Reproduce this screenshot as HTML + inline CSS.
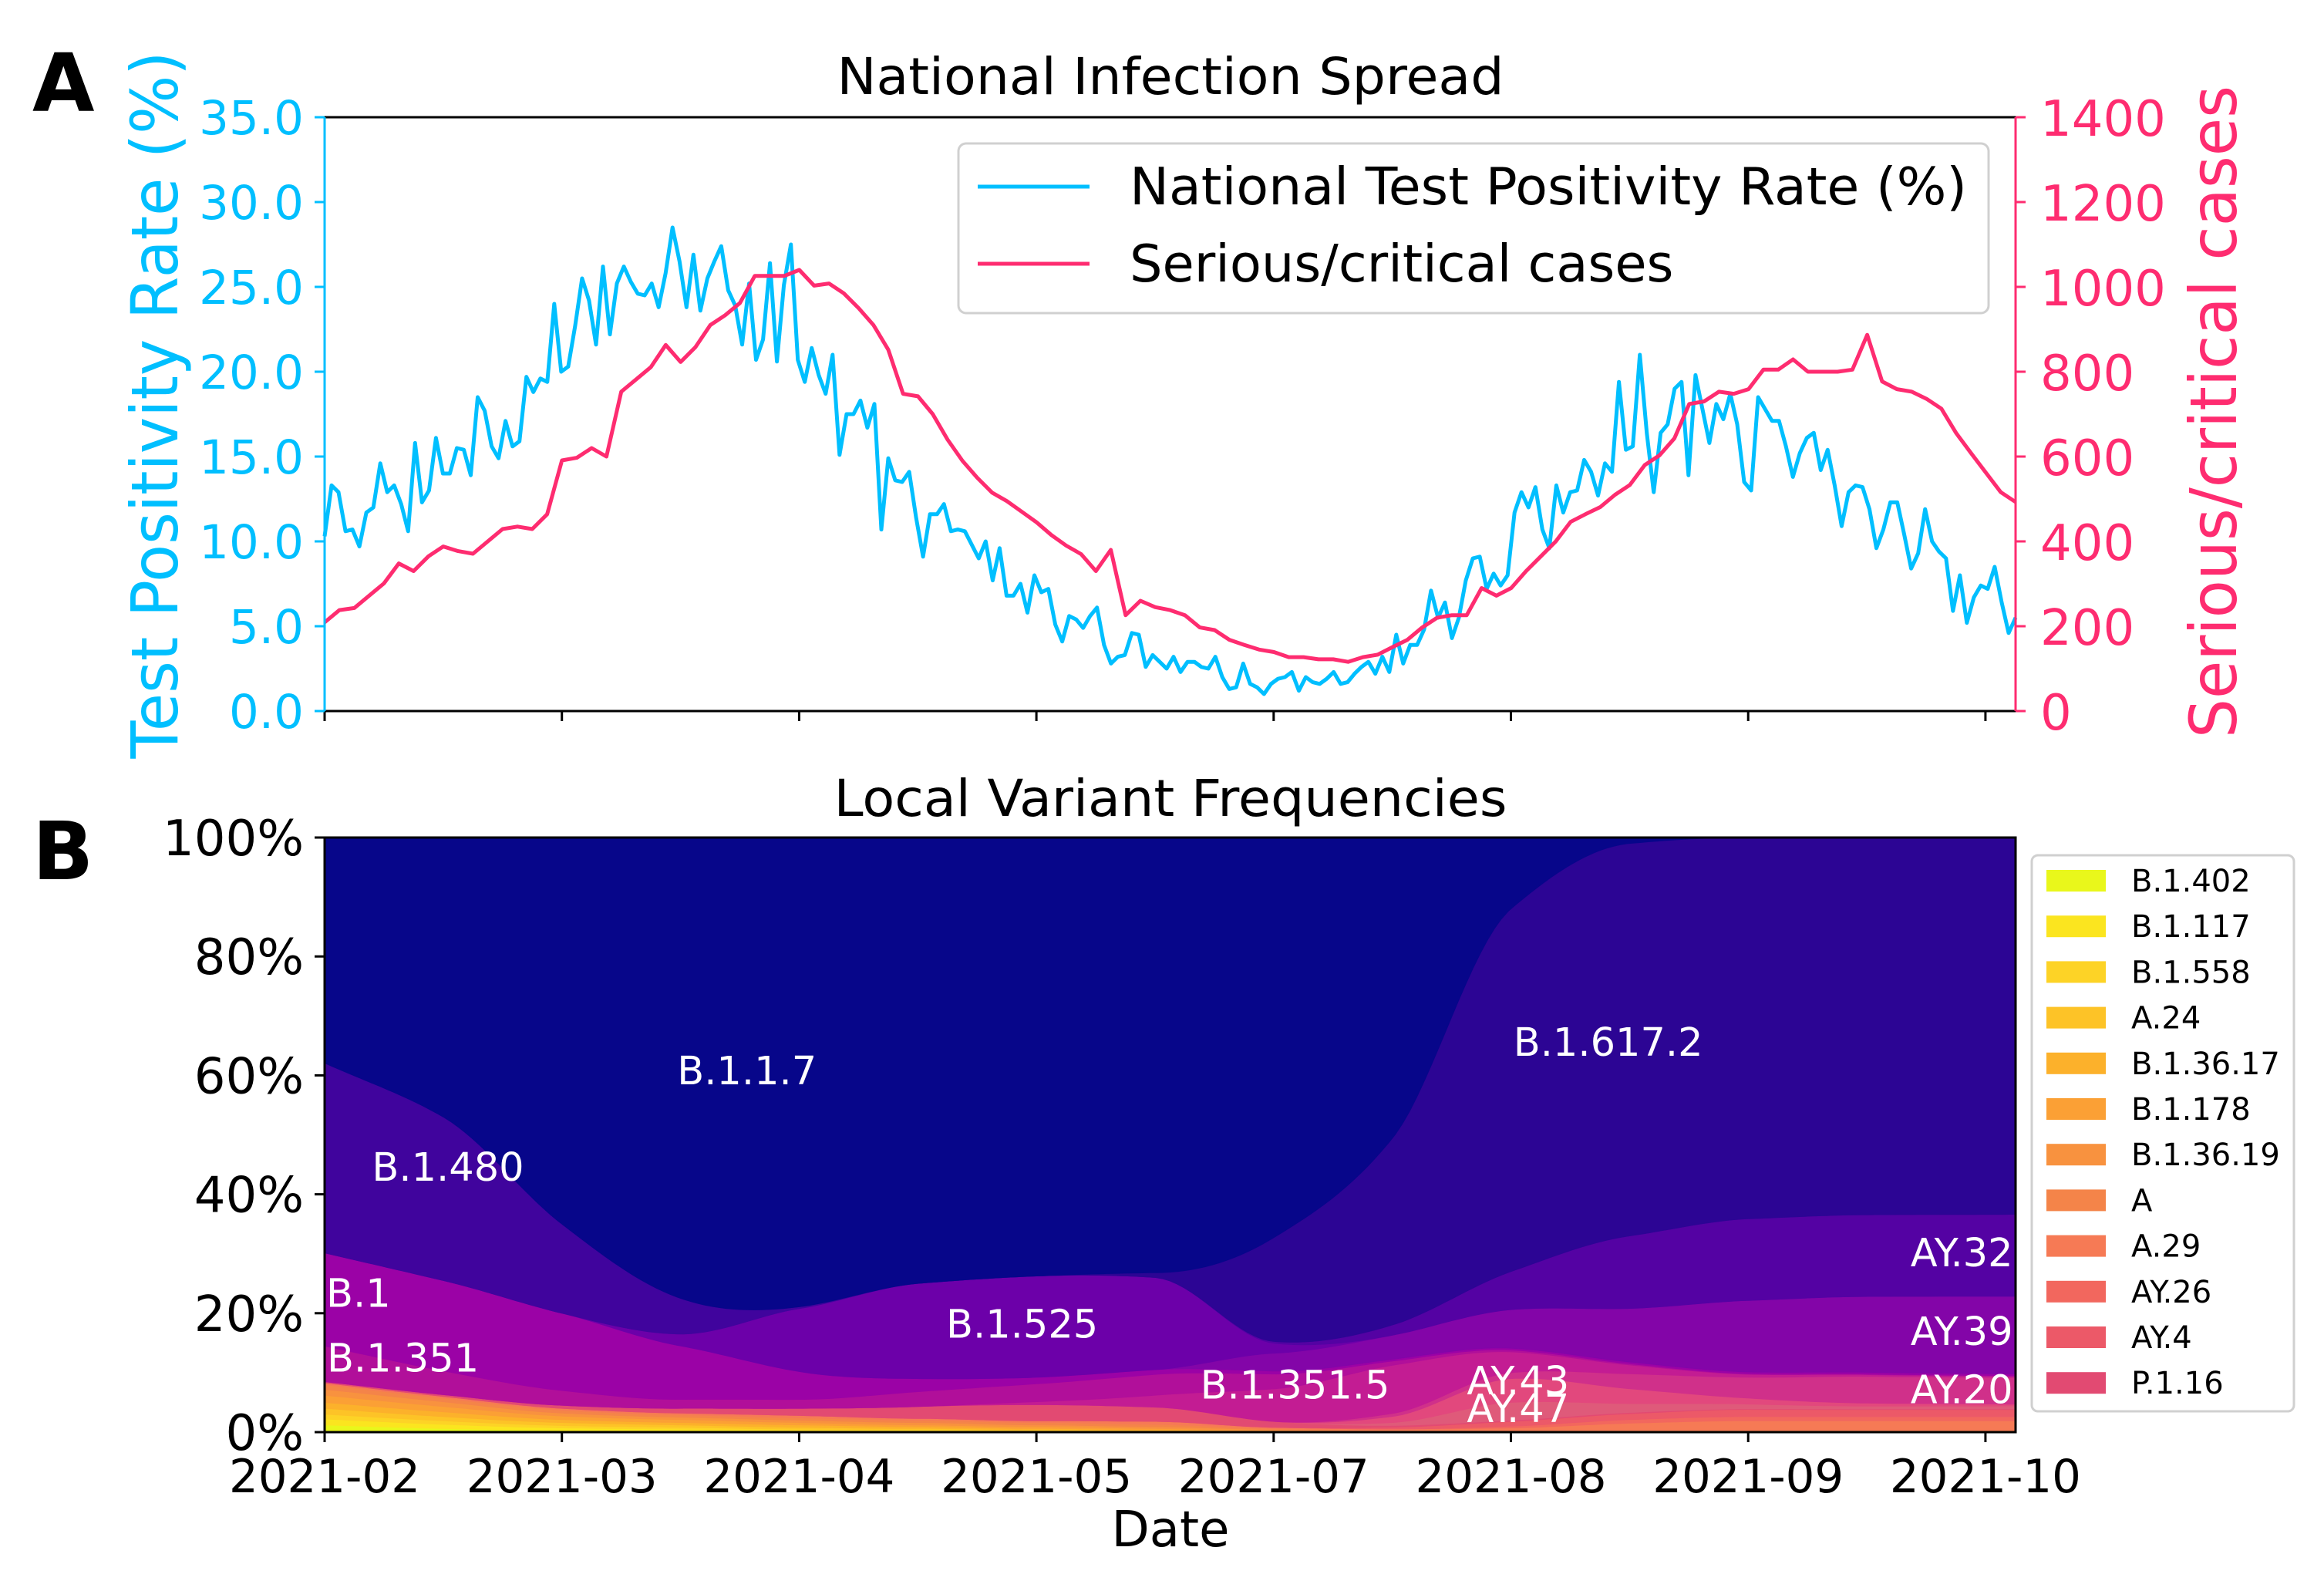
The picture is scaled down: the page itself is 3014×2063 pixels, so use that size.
<!DOCTYPE html>
<html><head><meta charset="utf-8"><style>html,body{margin:0;padding:0;background:#fff}svg{display:block}text{font-family:"DejaVu Sans","Liberation Sans",sans-serif}</style></head>
<body>
<svg id="fig" xmlns="http://www.w3.org/2000/svg" width="3014" height="2063" viewBox="0 0 3014 2063">
<rect width="3014" height="2063" fill="#fff"/>
<g id="panelA"></g>
<g id="panelB"></g>
</svg>
<script>
// ---------- Panel A data ----------
const monthLabels = ["2021-02","2021-03","2021-04","2021-05","2021-07","2021-08","2021-09","2021-10"];
const xEnd = 7.127; // last sample date in month units
const positivityRate = [10.3,13.3,12.9,10.6,10.7,9.7,11.7,12,14.6,12.9,13.3,12.2,10.6,15.8,12.3,13,16.1,14,14,15.5,15.4,13.9,18.5,17.7,15.6,14.9,17.1,15.6,15.9,19.7,18.8,19.6,19.4,24,20,20.3,22.7,25.5,24.2,21.6,26.2,22.2,25.2,26.2,25.3,24.6,24.5,25.2,23.8,25.8,28.5,26.5,23.8,26.9,23.6,25.5,26.5,27.4,24.8,23.9,21.6,25.2,20.7,21.9,26.4,20.6,25.1,27.5,20.7,19.4,21.4,19.8,18.7,21,15.1,17.5,17.5,18.3,16.7,18.1,10.7,14.9,13.6,13.5,14.1,11.4,9.1,11.6,11.6,12.2,10.6,10.7,10.6,9.8,9,10,7.7,9.6,6.8,6.8,7.5,5.8,8,7,7.2,5.1,4.1,5.6,5.4,4.9,5.6,6.1,3.9,2.8,3.2,3.3,4.6,4.5,2.6,3.3,2.9,
2.5,3.2,2.3,2.9,2.9,2.6,2.5,3.2,2,1.3,1.4,2.8,1.6,1.4,1,1.6,1.9,2,2.3,1.2,2,1.7,1.6,1.9,2.3,1.6,1.7,2.2,2.6,2.9,2.2,3.2,2.3,4.5,2.8,3.9,3.9,4.8,7.1,5.5,6.4,4.3,5.5,7.7,9,9.1,7.2,8.1,7.4,8,11.7,12.9,12,13.2,10.7,9.6,13.3,11.7,12.9,13,14.8,14.1,12.7,14.6,14.1,19.4,15.4,15.6,21,16.4,12.9,16.4,16.9,19,19.4,13.9,19.8,17.8,15.8,18.1,17.2,18.7,16.9,13.5,13,18.5,17.8,17.1,17.1,15.6,13.8,15.2,16.1,16.4,14.2,15.4,13.3,10.9,12.9,13.3,13.2,11.9,9.6,10.7,12.3,12.3,10.4,8.4,9.3,11.9,10,9.4,9,5.9,8,5.2,6.7,7.4,7.2,8.5,6.4,4.6,5.5];
const seriousCases = [209,238,243,272,301,348,330,365,388,377,371,400,429,435,429,464,591,597,620,600,753,782,811,863,823,858,910,933,962,1026,1026,1026,1040,1003,1008,985,950,910,852,748,742,700,640,590,550,515,495,470,445,415,390,370,330,380,226,260,245,
238,226,197,191,168,156,145,139,127,127,122,122,116,127,133,151,168,197,220,226,226,290,272,290,330,365,400,446,464,481,510,533,580,603,643,724,730,753,748,759,805,805,829,800,800,800,805,887,777,759,753,736,713,655,608,562,516,493];
const leftTicks = [0,5,10,15,20,25,30,35];
const rightTicks = [0,200,400,600,800,1000,1200,1400];

// ---------- Panel B data ----------
const gridMonths = [0,0.5,1,1.5,2,2.5,3,3.5,4,4.5,5,5.5,6,6.5,7.127];
const variantNames = ["B.1.402","B.1.117","B.1.558","A.24","B.1.36.17","B.1.178","B.1.36.19","A","A.29","AY.26","AY.4","P.1.16","AY.47","AY.43","AY.20","B.1.351.5","B.1.351","B.1","AY.39","B.1.525","AY.32","B.1.480","B.1.617.2","B.1.1.7"];
const v_B1402 = [1.2,.6,.3,.2,.1,.1,0,0,0,0,0,0,0,0,0];
const v_B1117 = [1,.7,.4,.3,.2,.1,.1,0,0,0,0,0,0,0,0];
const v_B1558 = [.8,.6,.4,.3,.2,.2,.1,.1,0,0,0,0,0,0,0];
const v_A24 = [1,.7,.5,.4,.3,.2,.2,.1,0,0,0,0,0,0,0];
const v_B13617 = [1,.8,.5,.4,.4,.3,.2,.2,.1,0,0,0,0,0,0];
const v_B1178 = [1.2,.9,.6,.5,.4,.3,.3,.2,.1,0,0,0,0,0,0];
const v_B13619 = [1,.8,.5,.4,.4,.4,.3,.3,.2,.1,.1,.1,.1,.1,.1];
const v_A = [.8,.6,.5,.4,.4,.4,.4,.4,.2,.2,.2,.2,.2,.2,.2];
const v_A29 = [.3,.3,.3,.3,.4,.3,.3,.5,.2,.2,.4,1.2,1.6,1.6,1.6];
const v_AY26 = [0,0,0,0,0,0,0,0,0,0,.3,.6,.7,.7,.7];
const v_AY4 = [0,0,0,0,0,0,0,0,0,.3,.8,1,1.2,1.2,1.2];
const v_P116 = [.2,.3,.5,.8,1.2,2,2.7,2.4,1,.3,.2,.2,.1,.1,.1];
const v_AY47 = [0,0,0,0,0,0,0,0,0,.5,3,1.5,.8,.5,.5];
const v_AY43 = [0,0,0,0,0,0,0,0,0,1,4,2.5,1,.5,.3];
const v_AY20 = [0,0,0,0,0,0,0,0,0,.5,1,2.5,3.5,4.5,4.5];
const v_B13515 = [0,0,0,0,0,0,.5,2,5.5,8,3.5,1.5,.5,.3,.2];
const v_B1351 = [6,4,2.5,1.5,1.5,2.5,3,3.5,2.5,.7,.3,.2,.1,.1,.1];
const v_B1 = [15.7,15.2,13,9,4.7,2.2,1.1,.8,.5,.3,.3,.3,.3,.3,.3];
const v_AY39 = [0,0,0,0,0,0,0,0,3,4,6.5,9,12,12.8,13.1];
const v_B1525 = [0,0,0,2,10.6,16,17,15.5,1.7,0,0,0,0,0,0];
const v_AY32 = [0,0,0,0,0,0,0,0,.3,1.7,6.4,12.2,13.7,13.8,13.8];
const v_B1480 = [32,27.5,15,6,.3,0,0,0,0,0,0,0,0,0,0];
const v_B16172 = [0,0,0,0,0,0,0,.8,17.5,31,61,66,64,63.7,63.5];
const v_B117 = [38,47,65,77.5,79,75,73.6,73.2,67.5,50,12,1,0,0,0];
const variantValues = [v_B1402,v_B1117,v_B1558,v_A24,v_B13617,v_B1178,v_B13619,v_A,v_A29,v_AY26,v_AY4,v_P116,v_AY47,v_AY43,v_AY20,v_B13515,v_B1351,v_B1,v_AY39,v_B1525,v_AY32,v_B1480,v_B16172,v_B117];
const variantColors = ["#e9f71b","#fbe51f","#fdd326","#fdc327","#fcb12b","#fba035","#f8923f","#f48449","#f67a55","#f2675e","#ec5968","#e24a72","#df5a7a","#e2487d","#d0308a","#c31c93","#b10f9a","#9b02a6","#8305a8","#6c00a9","#5402a3","#40049d","#2c0594","#07068a"];
const legendCount = 12;
const yTicksB = [0,20,40,60,80,100];
const variantLabels = [["B.1.1.7",1.78,60.8],["B.1.617.2",5.41,65.6],["B.1.480",0.52,44.6],["B.1",0.0,23.4],["B.1.525",2.94,18.2],["B.1.351",0.33,12.5],["B.1.351.5",4.09,8],["AY.43",5.03,8.7],["AY.47",5.03,4],["AY.32",6.9,30.2],["AY.39",6.9,17],["AY.20",6.9,7.2]];

const NS="http://www.w3.org/2000/svg";
function mk(parent,tag,attrs,txt){const e=document.createElementNS(NS,tag);for(const k in attrs)e.setAttribute(k,attrs[k]);if(txt!==undefined)e.textContent=txt;parent.appendChild(e);return e;}

const L=421,R=2614;
const xs=m=>L+(m/xEnd)*(R-L);
const aTop=152,aBot=922;
const yLeft=v=>aBot-(v/35)*(aBot-aTop);
const yRight=v=>aBot-(v/1400)*(aBot-aTop);
const bTop=1086,bBot=1857;
const yB=v=>bBot-(v/100)*(bBot-bTop);
const BLUE="#00bfff",PINK="#fe2c70";

// ---------- Panel A ----------
const A=document.getElementById('panelA');
let t;
t=mk(A,'text',{x:42,y:144,'font-size':104,'font-weight':'bold','font-family':'Liberation Sans'},'A');


t=mk(A,'text',{x:1518,y:122,'font-size':66,'text-anchor':'middle',textLength:865,lengthAdjust:'spacingAndGlyphs'},'National Infection Spread');



function polyPath(vals,yf){const step=xEnd/(vals.length-1);return vals.map((v,i)=>(i?'L':'M')+xs(i*step).toFixed(1)+' '+yf(v).toFixed(1)).join(' ');}
t=mk(A,'path',{d:polyPath(positivityRate,yLeft),fill:'none',stroke:BLUE,'stroke-width':5,'stroke-linejoin':'round'});


t=mk(A,'path',{d:polyPath(seriousCases,yRight),fill:'none',stroke:PINK,'stroke-width':5,'stroke-linejoin':'round'});



t=mk(A,'line',{x1:L,y1:aTop,x2:R,y2:aTop,stroke:'#000','stroke-width':3});


t=mk(A,'line',{x1:L,y1:aBot,x2:R,y2:aBot,stroke:'#000','stroke-width':3});


t=mk(A,'line',{x1:L,y1:aTop,x2:L,y2:aBot,stroke:BLUE,'stroke-width':3});


t=mk(A,'line',{x1:R,y1:aTop,x2:R,y2:aBot,stroke:PINK,'stroke-width':3});


monthLabels.forEach((lab,i)=>{
  const tk=mk(A,'line',{x1:xs(i),y1:aBot,x2:xs(i),y2:aBot+13,stroke:'#000','stroke-width':3});
  
  
});
leftTicks.forEach(v=>{
  const tk=mk(A,'line',{x1:L-13,y1:yLeft(v),x2:L,y2:yLeft(v),stroke:BLUE,'stroke-width':3});
  
  
  const tl=mk(A,'text',{x:394,y:yLeft(v)+22,'font-size':61,'text-anchor':'end',fill:BLUE},v.toFixed(1));
  
  
});
rightTicks.forEach(v=>{
  const tk=mk(A,'line',{x1:R,y1:yRight(v),x2:R+13,y2:yRight(v),stroke:PINK,'stroke-width':3});
  
  
  const tl=mk(A,'text',{x:2646,y:yRight(v)+24,'font-size':64,fill:PINK},String(v));
  
  
});
t=mk(A,'text',{x:0,y:0,'font-size':84,'text-anchor':'middle',fill:BLUE,transform:'translate(230,525) rotate(-90)',textLength:917,lengthAdjust:'spacingAndGlyphs'},'Test Positivity Rate (%)');


t=mk(A,'text',{x:0,y:0,'font-size':84,'text-anchor':'middle',fill:PINK,transform:'translate(2900,534) rotate(-90)',textLength:846,lengthAdjust:'spacingAndGlyphs'},'Serious/critical cases');


const lgA=mk(A,'g',{});


mk(lgA,'rect',{x:1243,y:186,width:1336,height:220,rx:10,fill:'#fff','fill-opacity':0.8,stroke:'#d0d0d0','stroke-width':3});
t=mk(lgA,'line',{x1:1268,y1:242,x2:1413,y2:242,stroke:BLUE,'stroke-width':5});


t=mk(lgA,'text',{x:1465,y:265,'font-size':67,textLength:1086,lengthAdjust:'spacingAndGlyphs'},'National Test Positivity Rate (%)');


t=mk(lgA,'line',{x1:1268,y1:342,x2:1413,y2:342,stroke:PINK,'stroke-width':5});


t=mk(lgA,'text',{x:1465,y:365,'font-size':67},'Serious/critical cases');



// ---------- Panel B ----------
const B=document.getElementById('panelB');
t=mk(B,'text',{x:42,y:1140,'font-size':104,'font-weight':'bold','font-family':'Liberation Sans'},'B');


t=mk(B,'text',{x:1518,y:1058,'font-size':66,'text-anchor':'middle',textLength:873,lengthAdjust:'spacingAndGlyphs'},'Local Variant Frequencies');



function monotone(xsA,ys){
  const n=xsA.length,d=[],m=new Array(n);
  for(let i=0;i<n-1;i++)d.push((ys[i+1]-ys[i])/(xsA[i+1]-xsA[i]));
  m[0]=d[0];m[n-1]=d[n-2];
  for(let i=1;i<n-1;i++){m[i]=(d[i-1]*d[i]<=0)?0:3*(xsA[i+1]-xsA[i-1])/((2*xsA[i+1]-xsA[i]-xsA[i-1])/d[i-1]+(xsA[i+1]+xsA[i]-2*xsA[i-1])/d[i]);}
  return x=>{let i=0;while(i<n-2&&x>xsA[i+1])i++;const h=xsA[i+1]-xsA[i],s=(x-xsA[i])/h;
    const h00=2*s*s*s-3*s*s+1,h10=s*s*s-2*s*s+s,h01=-2*s*s*s+3*s*s,h11=s*s*s-s*s;
    return Math.max(0,h00*ys[i]+h10*h*m[i]+h01*ys[i+1]+h11*h*m[i+1]);};
}
const interps=variantValues.map(v=>monotone(gridMonths,v));
const NS_=240,samples=[];
for(let k=0;k<=NS_;k++)samples.push(xEnd*k/NS_);
const cum=samples.map(x=>{const vals=interps.map(f=>f(x));const tot=vals.reduce((a,b)=>a+b,0);let c=0;const out=[0];vals.forEach(v=>{c+=v/tot*100;out.push(c);});return out;});
variantNames.forEach((nm,j)=>{
  let d='';
  samples.forEach((x,k)=>{d+=(k?'L':'M')+xs(x).toFixed(1)+' '+yB(cum[k][j+1]).toFixed(1);});
  for(let k=samples.length-1;k>=0;k--)d+='L'+xs(samples[k]).toFixed(1)+' '+yB(cum[k][j]).toFixed(1);
  const p=mk(B,'path',{d:d+'Z',fill:variantColors[j],stroke:variantColors[j],'stroke-width':0.8});
  
  
});
variantLabels.forEach(([lab,m,v])=>{
  const tl=mk(B,'text',{x:xs(m)+(lab==='B.1'?2:0),y:yB(v)+18,'font-size':51,fill:'#fff','text-anchor':lab==='B.1'?'start':'middle'},lab);
  
  
});
t=mk(B,'rect',{x:L,y:bTop,width:R-L,height:bBot-bTop,fill:'none',stroke:'#000','stroke-width':3});


yTicksB.forEach(v=>{
  const tk=mk(B,'line',{x1:L-13,y1:yB(v),x2:L,y2:yB(v),stroke:'#000','stroke-width':3});
  
  
  const tl=mk(B,'text',{x:394,y:yB(v)+23,'font-size':64,'text-anchor':'end'},v+'%');
  
  
});
monthLabels.forEach((lab,i)=>{
  const tk=mk(B,'line',{x1:xs(i),y1:bBot,x2:xs(i),y2:bBot+13,stroke:'#000','stroke-width':3});
  
  
  const tl=mk(B,'text',{x:xs(i),y:1935,'font-size':60,'text-anchor':'middle',textLength:248,lengthAdjust:'spacingAndGlyphs'},lab);
  
  
});
t=mk(B,'text',{x:1518,y:2005,'font-size':64,'text-anchor':'middle'},'Date');


const lgB=mk(B,'g',{});


mk(lgB,'rect',{x:2635,y:1109,width:340,height:721,rx:8,fill:'#fff',stroke:'#d0d0d0','stroke-width':3});
for(let i=0;i<legendCount;i++){
  const cy=1142+i*59.2;
  const sw=mk(lgB,'rect',{x:2654,y:cy-14,width:77,height:28,fill:variantColors[i]});
  
  
  const tl=mk(lgB,'text',{x:2764,y:cy+14,'font-size':40},variantNames[i]);
  
  
}
</script>
</body></html>
